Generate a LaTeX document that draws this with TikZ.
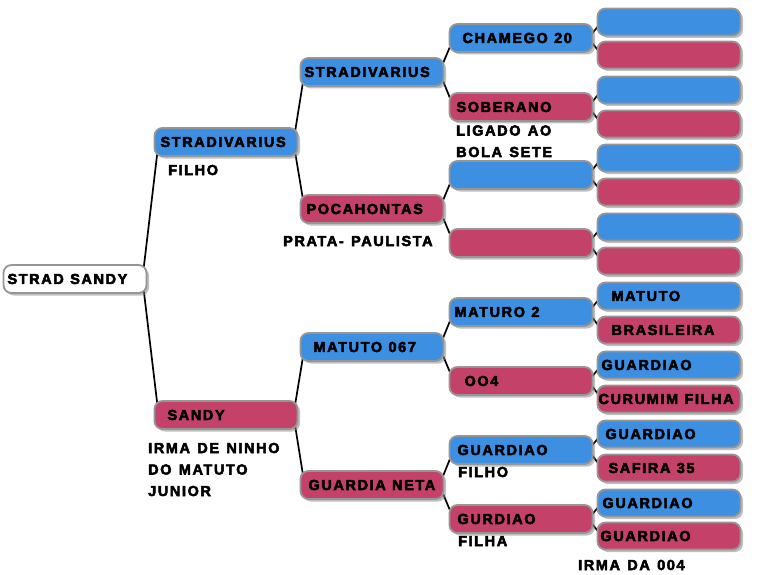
\documentclass[tikz,border=0pt]{standalone}
\usepackage{fontspec}
\setmainfont{Liberation Sans}
\newfontfamily\boxfont[LetterSpace=11,WordSpace=1.3,FakeBold=3.5]{Liberation Sans Bold}
\newcommand{\pedfont}{\boxfont\fontsize{14.5}{21.5}\selectfont}
\usetikzlibrary{shadows,backgrounds}
\definecolor{pedblue}{RGB}{61,143,226}
\definecolor{pedred}{RGB}{196,66,106}
\definecolor{pedrim}{RGB}{150,150,150}

\begin{document}
\begin{tikzpicture}[x=1pt, y=-1pt,
  box/.style={draw=pedrim, line width=1.8pt, rounded corners=8pt,
    minimum width=143pt, minimum height=28pt, text width=135pt,
    inner xsep=4pt, align=left, font=\pedfont,
    execute at begin node={\spaceskip=0.44em\relax},
    drop shadow={shadow xshift=2.5pt, shadow yshift=-2.5pt, opacity=0.5}},
  sire/.style={box, fill=pedblue},
  dam/.style={box, fill=pedred},
  note/.style={anchor=base west, inner sep=0pt, align=left, font=\pedfont},
  link/.style={line width=1.7pt}]
  \useasboundingbox (0,0) rectangle (784,575);

  % animal and parents
  \node[box, fill=white] (root) at (75,279) {STRAD SANDY};
  \node[sire] (s) at (226,142) {\hspace*{2pt}STRADIVARIUS};
  \node[dam]  (d) at (226,415) {\hspace*{9pt}SANDY};

  % grandparents
  \node[sire] (ss) at (372,72)  {STRADIVARIUS};
  \node[dam]  (sd) at (372,209) {\hspace*{2pt}POCAHONTAS};
  \node[sire] (ds) at (372,347) {\hspace*{9pt}MATUTO 067};
  \node[dam]  (dd) at (372,485) {\hspace*{4pt}GUARDIA NETA};

  % great-grandparents
  \node[sire] (sss) at (521,38)  {\hspace*{9pt}CHAMEGO 20};
  \node[dam]  (ssd) at (521,107) {\hspace*{3pt}SOBERANO};
  \node[sire] (sds) at (521,175) {};
  \node[dam]  (sdd) at (521,243) {};
  \node[sire] (dss) at (521,312) {\hspace*{1pt}MATURO 2};
  \node[dam]  (dsd) at (521,381) {\hspace*{11pt}OO4};
  \node[sire] (dds) at (521,450) {\hspace*{4pt}GUARDIAO};
  \node[dam]  (ddd) at (521,519) {\hspace*{4pt}GURDIAO};

  % fourth generation
  \foreach \n/\y/\i/\t/\c in {1/22/0//sire, 2/55/0//dam, 3/90/0//sire,
      4/124/0//dam, 5/158/0//sire, 6/192/0//dam, 7/227/0//sire,
      8/261/0//dam, 9/296/10/MATUTO/sire, 10/330/10/BRASILEIRA/dam,
      11/365/0/GUARDIAO/sire, 12/399/-3/CURUMIM FILHA/dam,
      13/434/4/GUARDIAO/sire, 14/468/7/SAFIRA 35/dam,
      15/503/1/GUARDIAO/sire, 16/536/-1/GUARDIAO/dam}
    \node[\c, minimum height=27pt] (g\n) at (669,\y) {\hspace*{\i pt}\t};

  % remarks (base = last line)
  \node[note] (nfs) at (168,175) {FILHO};
  \node[note] (nssd) at (456,157) {LIGADO AO\\BOLA SETE};
  \node[note] (nsd) at (283,246) {PRATA- PAULISTA};
  \node[note] (nd) at (148,496) {IRMA DE NINHO\\DO MATUTO\\JUNIOR};
  \node[note] (ndds) at (458,477) {FILHO};
  \node[note] (nddd) at (458,546) {FILHA};
  \node[note] (ng16) at (578,570) {IRMA DA 004};

  \begin{pgfonlayer}{background}
    \foreach \p/\q in {root/s, root/d, s/ss, s/sd, d/ds, d/dd,
        ss/sss, ss/ssd, sd/sds, sd/sdd, ds/dss, ds/dsd, dd/dds, dd/ddd}
      \draw[link] ([xshift=-5pt]\p.east) -- ([xshift=5pt]\q.west);
    \foreach \p [count=\k from 1] in {sss,ssd,sds,sdd,dss,dsd,dds,ddd} {
      \pgfmathtruncatemacro{\a}{2*\k-1}
      \pgfmathtruncatemacro{\b}{2*\k}
      \draw[link] ([xshift=-5pt]\p.east) -- ([xshift=5pt]g\a.west);
      \draw[link] ([xshift=-5pt]\p.east) -- ([xshift=5pt]g\b.west);
    }
  \end{pgfonlayer}
\end{tikzpicture}
\end{document}
